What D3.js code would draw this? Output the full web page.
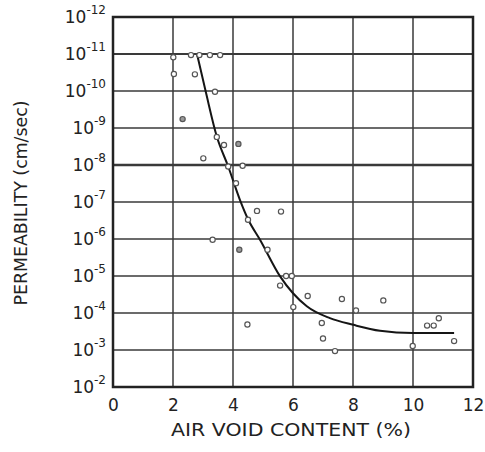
<!DOCTYPE html>
<html>
<head>
<meta charset="utf-8">
<script src="https://cdn.jsdelivr.net/npm/d3@7"></script>
<style>
  html, body { margin: 0; padding: 0; background: #fff; }
  svg { display: block; }
  text { font-family: "DejaVu Sans", sans-serif; fill: #222; }
</style>
</head>
<body>
<svg id="chart" width="485" height="452"></svg>
<script>
// ---- data ----
const xTicks = [0, 2, 4, 6, 8, 10, 12];
const yExponents = [-12, -11, -10, -9, -8, -7, -6, -5, -4, -3, -2];
const yTickLabels = ["-12", "-11", "-10", "-9", "-8", "-7", "-6", "-5", "-4", "-3", "-2"];

// measured points: air void content (%) and log10 of permeability
const pointVoid = [2.01, 2.6, 2.88, 3.23, 3.57, 2.03, 2.73, 3.4, 2.32, 3.46,
                   3.7, 4.18, 3.01, 3.84, 4.32, 4.1, 4.8, 5.6, 4.5, 4.21,
                   5.15, 3.32, 5.57, 5.77, 5.96, 6.49, 6.01, 7.63, 9.01, 8.1,
                   6.96, 4.48, 7.0, 7.4, 9.99, 10.47, 10.69, 10.86, 11.37];
const pointLogPerm = [-10.91, -10.97, -10.97, -10.97, -10.97, -10.46, -10.45, -9.98, -9.24, -8.76,
                      -8.54, -8.57, -8.18, -7.96, -7.98, -7.51, -6.76, -6.74, -6.52, -5.71,
                      -5.71, -5.98, -4.74, -5.0, -5.0, -4.46, -4.16, -4.38, -4.34, -4.07,
                      -3.73, -3.69, -3.31, -2.97, -3.11, -3.66, -3.66, -3.86, -3.24];
const pointFilled = [0,0,0,0,0,0,0,0,1,0,
                     0,1,0,0,0,0,0,0,0,1,
                     0,0,0,0,0,0,0,0,0,0,
                     0,0,0,0,0,0,0,0,0];

// fitted curve
const curveVoid = [2.8, 3.1, 3.46, 3.84, 4.23, 4.51, 4.9, 5.57, 6.46, 7.23, 8.01, 8.9, 9.99, 11.37];
const curveLogPerm = [-11.0, -9.95, -8.77, -7.96, -7.06, -6.52, -5.98, -4.99, -4.18, -3.86, -3.68, -3.52, -3.46, -3.46];

// ---- layout ----
const svg = d3.select("#chart");
const padL = 113, padR = 473, padT = 17, padB = 387;

const x = d3.scaleLinear().domain([0, 12]).range([padL, padR]);
const y = d3.scaleLog().domain([1e-12, 1e-2]).range([padT, padB]);

// grid
const grid = svg.append("g");
grid.selectAll("line.v").data(xTicks.slice(1, -1)).join("line")
  .attr("x1", d => x(d)).attr("x2", d => x(d))
  .attr("y1", padT).attr("y2", padB)
  .attr("stroke", "#3a3a3a").attr("stroke-width", 1.5);
grid.selectAll("line.h").data(yExponents.slice(1, -1)).join("line")
  .attr("x1", padL).attr("x2", padR)
  .attr("y1", d => y(Math.pow(10, d))).attr("y2", d => y(Math.pow(10, d)))
  .attr("stroke", "#3a3a3a")
  .attr("stroke-width", d => d === -8 ? 2.6 : (d === -11 ? 2 : 1.5));

// frame
svg.append("rect").attr("x", padL).attr("y", padT)
  .attr("width", padR - padL).attr("height", padB - padT)
  .attr("fill", "none").attr("stroke", "#222").attr("stroke-width", 2.5);

// x axis
const xAxis = d3.axisBottom(x).tickValues(xTicks).tickSize(0).tickPadding(12)
  .tickFormat(d3.format("d"));
const gx = svg.append("g").attr("transform", `translate(0,${padB})`).call(xAxis);
gx.select(".domain").remove();
gx.selectAll(".tick text").attr("font-size", 17).attr("fill", "#222")
  .attr("font-family", "DejaVu Sans, sans-serif");

// y axis with superscript labels
const yAxis = d3.axisLeft(y).tickValues(yExponents.map(e => Math.pow(10, e)))
  .tickSize(0).tickPadding(7).tickFormat(() => "");
const gy = svg.append("g").attr("transform", `translate(${padL},0)`).call(yAxis);
gy.select(".domain").remove();
gy.selectAll(".tick text").each(function(d, i) {
  const t = d3.select(this).attr("font-family", "DejaVu Sans, sans-serif")
    .attr("fill", "#222").attr("dy", "0.55em").attr("x", -7);
  t.append("tspan").attr("font-size", 17).text("10");
  t.append("tspan").attr("font-size", 12).attr("dy", "-0.75em").text(yTickLabels[i]);
});

// axis titles
svg.append("text").attr("x", (padL + padR) / 2 - 2).attr("y", 436)
  .attr("text-anchor", "middle").attr("font-size", 17)
  .attr("textLength", 240).attr("lengthAdjust", "spacingAndGlyphs")
  .text("AIR VOID CONTENT (%)");
svg.append("text")
  .attr("transform", "translate(27,203) rotate(-90)")
  .attr("text-anchor", "middle").attr("font-size", 17)
  .attr("textLength", 205).attr("lengthAdjust", "spacingAndGlyphs")
  .text("PERMEABILITY (cm/sec)");

// fitted curve
const line = d3.line()
  .x(d => x(d[0])).y(d => y(Math.pow(10, d[1])))
  .curve(d3.curveMonotoneX);
svg.append("path")
  .datum(curveVoid.map((v, i) => [v, curveLogPerm[i]]))
  .attr("d", line).attr("fill", "none")
  .attr("stroke", "#151515").attr("stroke-width", 2);

// points
svg.append("g").selectAll("circle")
  .data(pointVoid.map((v, i) => ({ v, p: pointLogPerm[i], f: pointFilled[i] })))
  .join("circle")
  .attr("cx", d => x(d.v)).attr("cy", d => y(Math.pow(10, d.p)))
  .attr("r", 2.6)
  .attr("fill", d => d.f ? "#999" : "#fff")
  .attr("stroke", "#555").attr("stroke-width", 1.2);
</script>
</body>
</html>
